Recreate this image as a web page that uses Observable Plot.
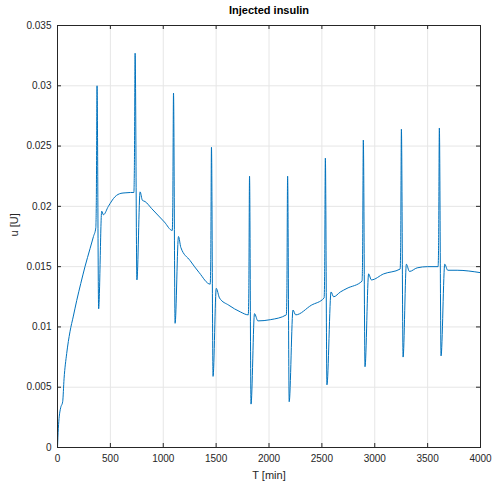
<!DOCTYPE html>
<html>
<head>
<meta charset="utf-8">
<script src="https://cdn.jsdelivr.net/npm/d3@7"></script>
<script src="https://cdn.jsdelivr.net/npm/@observablehq/plot@0.6"></script>
<style>
  html, body { margin: 0; padding: 0; background: #ffffff; }
  #chart { width: 492px; height: 487px; }
</style>
</head>
<body>
<div id="chart"></div>
<script>
// Time (min) and injected insulin u (U)
const timeMin = [0, 8, 17, 30, 49, 62, 87, 118, 150, 182, 220, 260, 308, 340, 362, 367, 374, 389, 418, 434, 481, 544, 600, 639, 690, 722,
  727, 734, 751, 781, 803, 828, 892, 1011, 1085, 1090, 1097, 1112, 1144, 1166, 1254, 1340, 1444,
  1449, 1456, 1471, 1501, 1532, 1620, 1728, 1804, 1809, 1816, 1830, 1863, 1895, 2012, 2164,
  2169, 2176, 2191, 2227, 2252, 2400, 2521, 2526, 2533, 2548, 2587, 2611, 2675, 2738, 2880,
  2885, 2892, 2908, 2942, 2968, 3084, 3240, 3245, 3252, 3268, 3299, 3328, 3401, 3500, 3599,
  3604, 3611, 3627, 3662, 3690, 3779, 4000];
const insulinU = [0, 0.0016, 0.0026, 0.0033, 0.0038, 0.0057, 0.0078, 0.0096, 0.0109, 0.0122, 0.0136, 0.0150, 0.0165, 0.0175, 0.0182, 0.0203, 0.0300, 0.0115, 0.0196, 0.0193, 0.0200, 0.0208, 0.02108, 0.02112, 0.02115, 0.02115,
  0.0232, 0.0327, 0.0139, 0.0212, 0.0205, 0.0204, 0.0198, 0.0187, 0.0180, 0.0199, 0.0294, 0.0103, 0.0175, 0.0166, 0.0155, 0.0145, 0.01355,
  0.0154, 0.0249, 0.0059, 0.0132, 0.0124, 0.0118, 0.01125, 0.0110, 0.0128, 0.0225, 0.0036, 0.0111, 0.0105, 0.0106, 0.0110,
  0.0128, 0.0225, 0.0038, 0.0114, 0.0110, 0.0118, 0.0124, 0.0142, 0.0240, 0.0052, 0.0129, 0.0125, 0.0129, 0.0132, 0.0138,
  0.0158, 0.0255, 0.0067, 0.0144, 0.0139, 0.0144, 0.0148, 0.0166, 0.0264, 0.0075, 0.0152, 0.0146, 0.0149, 0.0150, 0.0150,
  0.0170, 0.0265, 0.0076, 0.0152, 0.0147, 0.0147, 0.0145];

const xTicks = [0, 500, 1000, 1500, 2000, 2500, 3000, 3500, 4000];
const yTicks = [0, 0.005, 0.01, 0.015, 0.02, 0.025, 0.03, 0.035];
const yTickLabels = ["0", "0.005", "0.01", "0.015", "0.02", "0.025", "0.03", "0.035"];

const titleText = "Injected insulin";
const xLabel = "T [min]";
const yLabel = "u [U]";

const data = timeMin.map((t, i) => ({t, u: insulinU[i]}));

const W = 492, H = 487;
const mL = 57, mR = 12, mT = 25, mB = 40;
const frameH = H - mT - mB;
const frameW = W - mL - mR;
const tickLen = 4;
const axisColor = "#262626";
const gridColor = "#e6e6e6";

const chart = Plot.plot({
  width: W,
  height: H,
  marginLeft: mL,
  marginRight: mR,
  marginTop: mT,
  marginBottom: mB,
  style: {
    fontFamily: "'Liberation Sans', Arial, Helvetica, sans-serif",
    fontSize: "10px",
    color: axisColor,
    background: "#ffffff"
  },
  x: {domain: [0, 4000]},
  y: {domain: [0, 0.035]},
  marks: [
    Plot.gridX(xTicks, {stroke: gridColor, strokeOpacity: 1}),
    Plot.gridY(yTicks, {stroke: gridColor, strokeOpacity: 1}),
    Plot.line(data, {x: "t", y: "u", stroke: "#0072BD", strokeWidth: 1, curve: "monotone-x"}),
    Plot.frame({stroke: axisColor, strokeWidth: 1}),
    Plot.tickX(xTicks, {x: d => d, stroke: axisColor, insetTop: frameH - tickLen}),
    Plot.tickX(xTicks, {x: d => d, stroke: axisColor, insetBottom: frameH - tickLen}),
    Plot.tickY(yTicks, {y: d => d, stroke: axisColor, insetRight: frameW - tickLen}),
    Plot.tickY(yTicks, {y: d => d, stroke: axisColor, insetLeft: frameW - tickLen}),
    Plot.axisX(xTicks, {tickSize: 0, tickPadding: 7, label: null, fill: axisColor, tickFormat: d => String(d)}),
    Plot.axisY(yTicks, {tickSize: 0, tickPadding: 6, label: null, fill: axisColor,
      tickFormat: d => yTickLabels[yTicks.indexOf(d)]}),
    Plot.text([xLabel], {frameAnchor: "bottom", dy: 28, lineAnchor: "middle", fontSize: 11, fill: axisColor}),
    Plot.text([yLabel], {frameAnchor: "left", dx: -43, rotate: -90, lineAnchor: "middle", fontSize: 11, fill: axisColor}),
    Plot.text([titleText], {frameAnchor: "top", dy: -15, lineAnchor: "middle", fontSize: 11, fontWeight: "bold", fill: "#000000"})
  ]
});

document.getElementById("chart").appendChild(chart);
</script>
</body>
</html>
